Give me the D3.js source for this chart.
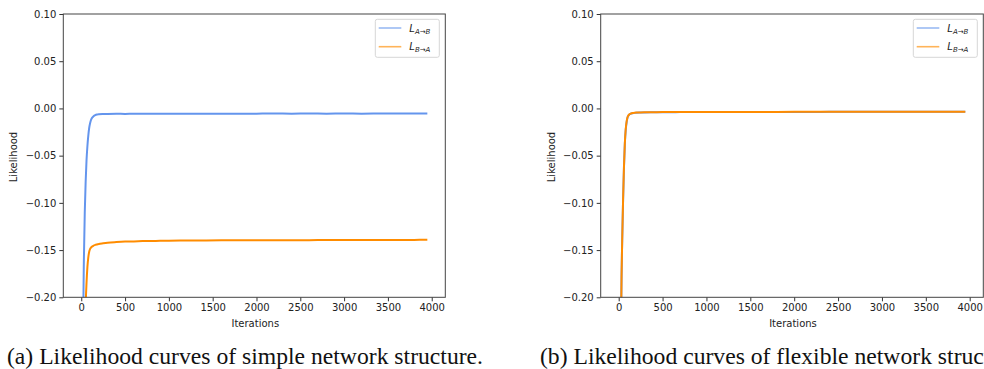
<!DOCTYPE html>
<html>
<head>
<meta charset="utf-8">
<script src="https://cdn.jsdelivr.net/npm/d3@7"></script>
<style>
  html, body { margin: 0; padding: 0; background: #fff; }
  svg { display: block; }
</style>
</head>
<body>
<svg id="chart" width="984" height="369"></svg>
<script>
// ---- DATA ----
const iterations = [0,10,20,30,40,50,60,70,80,90,100,110,120,140,160,180,200,250,300,400,500,600,700,800,900,1000,1200,1400,1600,1800,2000,2200,2400,2600,2800,3000,3200,3400,3600,3800,3950];

const simpleAB = [-0.6,-0.4,-0.24,-0.16,-0.11,-0.078,-0.055,-0.04,-0.029,-0.021,-0.016,-0.0125,-0.0105,-0.0083,-0.0071,-0.0065,-0.0062,-0.0059,-0.0058,-0.0057,-0.0058,-0.0056,-0.0057,-0.0056,-0.0057,-0.0056,-0.0055,-0.0056,-0.0055,-0.0056,-0.0055,-0.0054,-0.0055,-0.0054,-0.0055,-0.0054,-0.0055,-0.0054,-0.0053,-0.0054,-0.0053];
const simpleBA = [-0.9,-0.7,-0.5,-0.35,-0.26,-0.21,-0.185,-0.168,-0.158,-0.152,-0.149,-0.1475,-0.1465,-0.1453,-0.1445,-0.144,-0.1435,-0.1428,-0.1422,-0.1415,-0.141,-0.1408,-0.1405,-0.1403,-0.1402,-0.14,-0.1399,-0.1398,-0.1397,-0.1397,-0.1396,-0.1396,-0.1395,-0.1395,-0.1394,-0.1394,-0.1393,-0.1393,-0.1392,-0.1392,-0.1391];
const flexAB = [-0.88,-0.58,-0.34,-0.2,-0.14,-0.098,-0.063,-0.038,-0.023,-0.015,-0.0098,-0.0077,-0.0065,-0.0055,-0.005,-0.0047,-0.0045,-0.0043,-0.0042,-0.0041,-0.004,-0.004,-0.0039,-0.0039,-0.0039,-0.0038,-0.0038,-0.0038,-0.0037,-0.0037,-0.0037,-0.0037,-0.0036,-0.0036,-0.0036,-0.0036,-0.0036,-0.0035,-0.0035,-0.0035,-0.0035];
const flexBA = [-0.9,-0.6,-0.35,-0.2,-0.14,-0.097,-0.062,-0.037,-0.022,-0.014,-0.0095,-0.0075,-0.0064,-0.0054,-0.0049,-0.0046,-0.0044,-0.0042,-0.0041,-0.004,-0.0039,-0.0039,-0.0039,-0.0038,-0.0038,-0.0038,-0.0037,-0.0037,-0.0037,-0.0037,-0.0036,-0.0036,-0.0036,-0.0036,-0.0035,-0.0035,-0.0035,-0.0035,-0.0035,-0.0034,-0.0034];

const xTicks = [0,500,1000,1500,2000,2500,3000,3500,4000];
const yTicks = [0.10,0.05,0.00,-0.05,-0.10,-0.15,-0.20];
const seriesNames = [["L","A→B"],["L","B→A"]];
const captions = ["(a) Likelihood curves of simple network structure.", "(b) Likelihood curves of flexible network structure."];
const xLabel = "Iterations";
const yLabel = "Likelihood";

// ---- STYLE / LAYOUT ----
const colors = ["#6495ED", "#FF8C00"];
const panels = [
  { left: 63.3, right: 445.3, series: [simpleAB, simpleBA], capX: 7 },
  { left: 600.7, right: 983.3, series: [flexAB, flexBA], capX: 540 }
];
const plotTop = 14, plotBottom = 297.3;
const svg = d3.select("#chart");
const font = "'DejaVu Sans', sans-serif";
let capStretch = 1;

panels.forEach((p, pi) => {
  const x = d3.scaleLinear().domain([-205, 4155]).range([p.left, p.right]);
  const y = d3.scaleLinear().domain([-0.20, 0.10]).range([plotBottom, plotTop]);
  const g = svg.append("g");

  const clipId = "clip" + pi;
  svg.append("clipPath").attr("id", clipId)
    .append("rect").attr("x", p.left).attr("y", plotTop)
    .attr("width", p.right - p.left).attr("height", plotBottom - plotTop);

  const line = d3.line()
    .x((d, i) => x(iterations[i]))
    .y(d => y(d))
    .curve(d3.curveMonotoneX);

  const plot = g.append("g").attr("clip-path", `url(#${clipId})`);
  p.series.forEach((s, si) => {
    plot.append("path").datum(s)
      .attr("d", line)
      .attr("fill", "none")
      .attr("stroke", colors[si])
      .attr("stroke-width", 2)
      .attr("stroke-linejoin", "round");
  });

  // axes
  const xAxis = d3.axisBottom(x).tickValues(xTicks).tickSize(4).tickPadding(3).tickFormat(d3.format("d"));
  const yAxis = d3.axisLeft(y).tickValues(yTicks).tickSize(4).tickPadding(3)
    .tickFormat(d => d3.format(".2f")(d).replace("-", "−"));

  const gx = g.append("g").attr("transform", `translate(0,${plotBottom})`).call(xAxis);
  const gy = g.append("g").attr("transform", `translate(${p.left},0)`).call(yAxis);
  [gx, gy].forEach(a => {
    a.select(".domain").remove();
    a.selectAll("line").attr("stroke", "#333");
    a.selectAll("text").attr("font-family", font).attr("font-size", 10).attr("fill", "#222");
  });

  // frame
  g.append("rect").attr("x", p.left).attr("y", plotTop)
    .attr("width", p.right - p.left).attr("height", plotBottom - plotTop)
    .attr("fill", "none").attr("stroke", "#444").attr("stroke-width", 1);

  // labels
  g.append("text").attr("x", (p.left + p.right) / 2 + 1).attr("y", 327)
    .attr("text-anchor", "middle").attr("font-family", font).attr("font-size", 10)
    .attr("fill", "#222").text(xLabel);
  g.append("text")
    .attr("transform", `translate(${p.left - 46},157) rotate(-90)`)
    .attr("text-anchor", "middle").attr("font-family", font).attr("font-size", 10)
    .attr("fill", "#222").text(yLabel);

  // legend
  const lx = p.right - 6 - 64, ly = 19.3;
  const leg = g.append("g");
  leg.append("rect").attr("x", lx).attr("y", ly).attr("width", 64).attr("height", 38)
    .attr("rx", 2).attr("fill", "#fff").attr("fill-opacity", 0.85)
    .attr("stroke", "#d6d6d6").attr("stroke-width", 1);
  seriesNames.forEach((nm, i) => {
    const yy = ly + 8.7 + i * 18.7;
    leg.append("line").attr("x1", lx + 3.4).attr("x2", lx + 26).attr("y1", yy).attr("y2", yy)
      .attr("stroke", colors[i]).attr("stroke-opacity", 0.65).attr("stroke-width", 1.6);
    const t = leg.append("text").attr("x", lx + 34).attr("y", yy + 3.5)
      .attr("font-family", font).attr("font-size", 10).attr("fill", "#222").attr("font-style", "italic");
    t.append("tspan").text(nm[0]);
    t.append("tspan").attr("font-size", 7).attr("dy", 2).text(nm[1]);
  });

  // caption
  const cap = svg.append("text").attr("x", p.capX).attr("y", 364)
    .attr("font-family", "'Liberation Serif', 'Times New Roman', serif")
    .attr("font-size", 22.5).attr("fill", "#111").text(captions[pi]);
  const natural = cap.node().getComputedTextLength();
  if (pi === 0) capStretch = 476 / natural;
  cap.attr("textLength", natural * capStretch).attr("lengthAdjust", "spacingAndGlyphs");
});
</script>
</body>
</html>
